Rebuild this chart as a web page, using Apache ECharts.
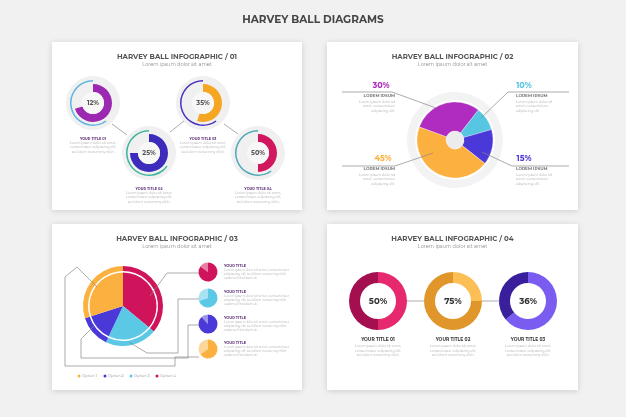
<!DOCTYPE html>
<html><head><meta charset="utf-8">
<script src="https://cdn.jsdelivr.net/npm/echarts@6/dist/echarts.min.js"></script>
<style>html,body{margin:0;padding:0;background:#f1f1f1}#c{width:626px;height:417px}</style>
</head><body><div id="c"></div>
<script>
// ---- data ----
const p1Values = [12, 25, 35, 50];
const p1Titles = ['YOUR TITLE 01', 'YOUR TITLE 02', 'YOUR TITLE 03', 'YOUR TITLE 04'];
const p1InnerFill = [70, 75, 55, 50];   // visual fill of inner ring (%)
const p1OuterFill = [60, 65, 60, 60];   // visual fill of outer thin ring (%)
const p2Labels = ['30%', '10%', '15%', '45%'];
const p2Values = [30, 10, 15, 45];
const p3Options = ['Option 1', 'Option 2', 'Option 3', 'Option 4'];
const p3Values = [30, 13, 21, 36];
const p3Mini = [15, 30, 12, 35];
const p4Values = [50, 75, 36];
const p4Titles = ['YOUR TITLE 01', 'YOUR TITLE 02', 'YOUR TITLE 03'];

const F = 'Montserrat, "Open Sans", "DejaVu Sans", sans-serif';
const chart = echarts.init(document.getElementById('c'));
const series = [], g = [];

function panel(x, y, w, h, num) {
  g.push({type:'rect', z:-10, shape:{x, y, width:w, height:h}, style:{fill:'#fff', shadowBlur:6, shadowColor:'rgba(0,0,0,0.15)', shadowOffsetY:1}});
  g.push({type:'text', z:100, x:x+w/2, y:y+15, style:{text:'HARVEY BALL INFOGRAPHIC / '+num, font:'bold 7px '+F, fill:'#555', align:'center', verticalAlign:'middle'}});
  g.push({type:'text', z:100, x:x+w/2, y:y+22.5, style:{text:'Lorem ipsum dolor sit amet', font:'5px '+F, fill:'#888', align:'center', verticalAlign:'middle'}});
}
function txt(x, y, t, size, color, bold, align) {
  g.push({type:'text', z:100, x, y, style:{text:t, font:(bold?'bold ':'')+size+'px '+F, fill:color, align:align||'center', verticalAlign:'middle'}});
}
function lorem(x, y, n, align) {
  const s = ['Lorem ipsum dolor sit amet,', 'consectetuer adipiscing elit,', 'sed diam nonummy nibh.'];
  for (let i = 0; i < n; i++) txt(x, y + i*4.5, s[i%3], 3.3, '#aaa', false, align);
}
function line(points, color) {
  g.push({type:'polyline', z:5, shape:{points}, style:{stroke:color||'#888', lineWidth:0.7, fill:null}});
}
function circ(cx, cy, r, fill, z) {
  g.push({type:'circle', z:z==null?-5:z, shape:{cx, cy, r}, style:{fill}});
}

txt(313, 20, 'HARVEY BALL DIAGRAMS', 10.5, '#444', true);

// ---------- Panel 1 ----------
panel(52, 42, 250, 168, '01');
const p1Pos = [[93,103],[149,153],[203,103],[258,153]];
const p1Col = ['#9c27b0','#3d2bbb','#f5a623','#d1175e'];
const p1Out = ['#5ab4e0','#3bb59a','#4b2fc0','#4aa8b8'];
line([[112,124],[127,135]]); line([[170,132],[184,121]]); line([[224,124],[238,134]]);
p1Values.forEach((v, i) => {
  const [cx, cy] = p1Pos[i];
  circ(cx, cy, 27, '#f0f0f0');
  series.push({type:'pie', silent:true, center:[cx,cy], radius:[11,19], startAngle:90, label:{show:false}, z:3,
    data:[{value:p1InnerFill[i], itemStyle:{color:p1Col[i]}}, {value:100-p1InnerFill[i], itemStyle:{color:'rgba(0,0,0,0)'}}]});
  series.push({type:'pie', silent:true, center:[cx,cy], radius:[21.5,23], startAngle:90, clockwise:false, label:{show:false}, z:3,
    data:[{value:p1OuterFill[i], itemStyle:{color:p1Out[i]}}, {value:100-p1OuterFill[i], itemStyle:{color:'rgba(0,0,0,0)'}}]});
  circ(cx, cy, 11, '#f7f7f7', 4);
  txt(cx, cy, v + '%', 6.5, '#555', true);
  txt(cx, cy+36, p1Titles[i], 3.5, '#5a2a70', true);
  lorem(cx, cy+40, 3);
});

// ---------- Panel 2 ----------
panel(327, 42, 251, 168, '02');
const p2Col = ['#b02cc0','#56c6e3','#4a38d8','#fbb040'];
circ(455, 140, 48, '#f3f3f3');
circ(455, 140, 40, '#fff');
series.push({type:'pie', silent:true, center:[455,140], radius:[9,38], startAngle:160, label:{show:false}, z:3,
  data:p2Values.map((v,i)=>({value:v, itemStyle:{color:p2Col[i], borderColor:'#fff', borderWidth:0.3}}))});
circ(455, 140, 9, '#ececec', 4);
line([[342,92],[392,92],[436,108]]);
line([[569,92],[508,92],[481,118]]);
line([[342,166],[395,166],[433,153]]);
line([[569,166],[512,166],[482,152]]);
const p2L = [[381,86,'#b02cc0'],[524,86,'#56c6e3'],[524,159,'#4a38d8'],[383,159,'#fbb040']];
p2L.forEach(([x,y,c],i) => {
  txt(x, y, p2Labels[i], 8, c, true);
  const left = x < 455;
  const ax = left ? 395 : 516;
  txt(ax, y+10, 'LOREM IPSUM', 4.2, '#777', true, left?'right':'left');
  ['Lorem ipsum dolor sit','amet, consectetuer','adipiscing elit.'].forEach((s,k)=>txt(ax, y+16+k*4.5, s, 3.3, '#aaa', false, left?'right':'left'));
});

// ---------- Panel 3 ----------
panel(52, 224, 250, 166, '03');
const p3Col = ['#fbb040','#4a38d8','#5bc8e6','#cf145c'];
const p3Light = ['#fdd69a','#9d94ea','#a9e2f2','#e97ea5'];
const order = [3,2,1,0];
series.push({type:'pie', silent:true, center:[123,306], radius:[35,40], startAngle:90, label:{show:false}, z:3,
  data:order.map(i=>({value:p3Values[i], itemStyle:{color:p3Col[i]}}))});
series.push({type:'pie', silent:true, center:[123,306], radius:[0,33.5], startAngle:90, label:{show:false}, z:3,
  data:order.map(i=>({value:p3Values[i], itemStyle:{color:p3Col[i]}}))});
circ(123, 306, 35, '#fff', 2);
line([[97,287],[77,267],[65,277],[65,366],[175,366],[175,357],[199,357]]);
line([[150,296],[167,273],[199,273]]);
line([[129,342],[147,353],[178,353],[178,299],[199,299]]);
line([[94,326],[81,339],[81,358],[188,358],[188,325],[199,325]]);
const miniY = [272,298,324,349];
order.forEach((idx,k)=>{
  const y = miniY[k];
  series.push({type:'pie', silent:true, center:[208,y], radius:[0,9.5], startAngle:90, clockwise:false, label:{show:false}, z:3,
    data:[{value:p3Mini[k], itemStyle:{color:p3Light[idx]}}, {value:100-p3Mini[k], itemStyle:{color:p3Col[idx]}}]});
  txt(224, y-6, 'YOUR TITLE', 3.6, '#5a2a70', true, 'left');
  ['Lorem ipsum dolor sit amet, consectetuer','adipiscing elit, sed diam nonummy nibh','euismod tincidunt ut.'].forEach((s,j)=>txt(224, y-1.5+j*3.8, s, 3.1, '#aaa', false, 'left'));
});
p3Options.forEach((o,i)=>{
  circ(79+i*26, 376, 1.5, p3Col[i], 10);
  txt(82+i*26, 376, o, 3.6, '#888', false, 'left');
});

// ---------- Panel 4 ----------
panel(327, 224, 251, 166, '04');
const p4Pos = [378,453,528];
const p4Light = ['#e6286f','#fbbf55','#7b5cf0'];
const p4Dark = ['#a30f4f','#e0962a','#3a1f9c'];
line([[407,301],[424,301]]); line([[482,301],[499,301]]);
p4Values.forEach((v,i)=>{
  const cx = p4Pos[i];
  series.push({type:'pie', silent:true, center:[cx,301], radius:[18,29], startAngle:90, label:{show:false}, z:3,
    data:[{value:100-v, itemStyle:{color:p4Light[i]}},{value:v, itemStyle:{color:p4Dark[i]}}]});
  txt(cx, 301, v+'%', 8.5, '#333', true);
  txt(cx, 340, p4Titles[i], 4.5, '#333', true);
  lorem(cx, 346.5, 3);
});

chart.setOption({backgroundColor:'#f1f1f1', animation:false, series, graphic:g});
</script></body></html>
